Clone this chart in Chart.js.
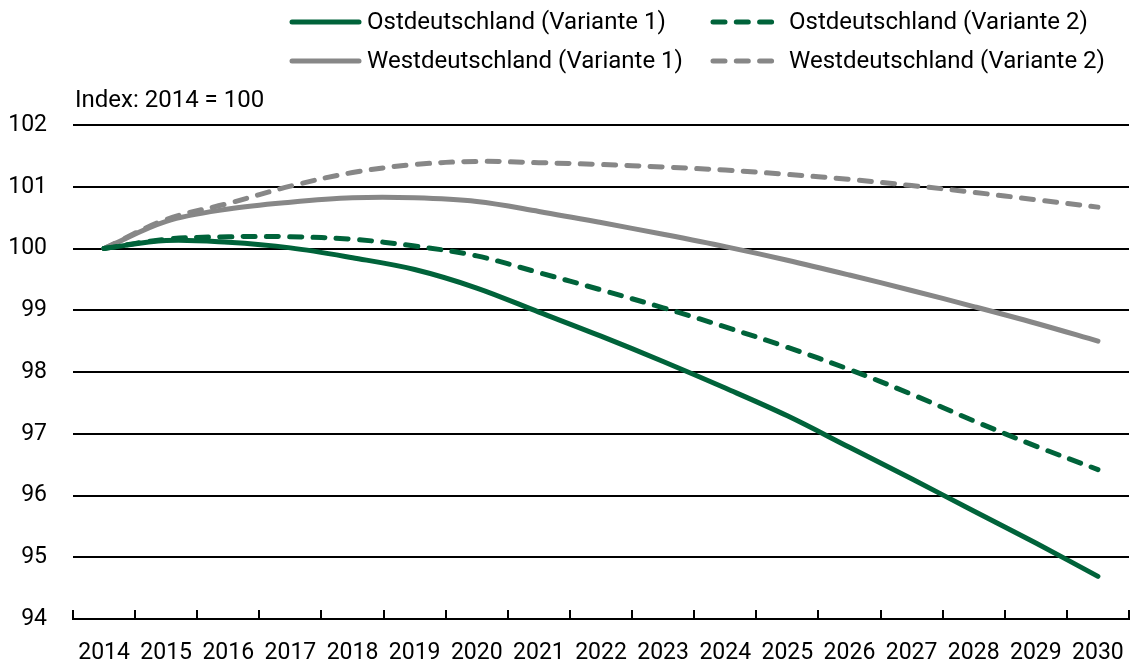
<!DOCTYPE html>
<html lang="de">
<head>
<meta charset="utf-8">
<title>Index: 2014 = 100</title>
<script src="https://cdn.jsdelivr.net/npm/chart.js@4.4.1/dist/chart.umd.min.js"></script>
<style>
  html, body { margin: 0; padding: 0; background: #fff; }
  canvas { display: block; }
</style>
</head>
<body>
<canvas id="indexChart" width="1130" height="666"></canvas>
<script>
const years = ['2014', '2015', '2016', '2017', '2018', '2019', '2020', '2021', '2022',
               '2023', '2024', '2025', '2026', '2027', '2028', '2029', '2030'];

const ostVariante1 = [100, 100.13, 100.10, 100.01, 99.85, 99.66, 99.36, 98.97, 98.58,
                      98.17, 97.74, 97.29, 96.78, 96.27, 95.75, 95.23, 94.69];
const ostVariante2 = [100, 100.15, 100.19, 100.19, 100.15, 100.04, 99.88, 99.61, 99.33,
                      99.04, 98.73, 98.40, 98.04, 97.64, 97.21, 96.80, 96.42];
const westVariante1 = [100, 100.44, 100.64, 100.75, 100.82, 100.82, 100.76, 100.60, 100.42,
                       100.23, 100.03, 99.81, 99.57, 99.32, 99.06, 98.79, 98.50];
const westVariante2 = [100, 100.47, 100.73, 101.01, 101.23, 101.36, 101.41, 101.39, 101.36,
                       101.32, 101.27, 101.20, 101.12, 101.02, 100.91, 100.79, 100.67];

const seriesNames = ['Ostdeutschland (Variante 1)', 'Ostdeutschland (Variante 2)',
                     'Westdeutschland (Variante 1)', 'Westdeutschland (Variante 2)'];
const axisCaption = 'Index: 2014 = 100';

const GREEN = '#00633a';
const GRAY = '#878787';
const FONT = 'Roboto, "Liberation Sans", sans-serif';
const DASH = [12, 11.3];

// Legende als 2x2-Raster wie im Original, dazu die Beschriftung oben links
const legendGrid = {
    id: 'legendGrid',
    afterDraw(chart) {
        const ctx = chart.ctx;
        const cols = [{ x: 292, len: 67, textX: 367 }, { x: 713, len: 62, textX: 789 }];
        const rows = [22, 61];
        ctx.save();
        ctx.font = '24px ' + FONT;
        ctx.textBaseline = 'middle';
        ctx.textAlign = 'left';
        chart.data.datasets.forEach((ds, i) => {
            const col = cols[i % 2];
            const y = rows[Math.floor(i / 2)];
            ctx.beginPath();
            ctx.strokeStyle = ds.borderColor;
            ctx.lineWidth = ds.borderWidth;
            ctx.lineCap = 'round';
            ctx.setLineDash(ds.borderDash || []);
            ctx.moveTo(col.x, y);
            ctx.lineTo(col.x + col.len, y);
            ctx.stroke();
            ctx.fillStyle = '#000';
            ctx.fillText(ds.label, col.textX, y + 1);
        });
        ctx.fillText(axisCaption, chart.chartArea.left + 2, 101);
        ctx.restore();
    }
};

new Chart(document.getElementById('indexChart'), {
    type: 'line',
    data: {
        labels: years,
        datasets: [
            { label: seriesNames[0], data: ostVariante1, borderColor: GREEN, borderWidth: 5 },
            { label: seriesNames[1], data: ostVariante2, borderColor: GREEN, borderWidth: 5, borderDash: DASH },
            { label: seriesNames[2], data: westVariante1, borderColor: GRAY, borderWidth: 5 },
            { label: seriesNames[3], data: westVariante2, borderColor: GRAY, borderWidth: 5, borderDash: DASH }
        ]
    },
    options: {
        responsive: false,
        animation: false,
        layout: { padding: { top: 125, right: 1, left: 0, bottom: 0 } },
        elements: {
            point: { radius: 0 },
            line: { tension: 0.35, borderCapStyle: 'round', borderJoinStyle: 'round', fill: false }
        },
        plugins: {
            legend: { display: false },
            tooltip: { enabled: false }
        },
        scales: {
            x: {
                offset: true,
                grid: { offset: true, drawOnChartArea: false, drawTicks: true, tickLength: -9, color: '#000', lineWidth: 2 },
                border: { display: true, color: '#000', width: 2 },
                ticks: { color: '#000', font: { family: FONT, size: 23 }, padding: 29, maxRotation: 0, autoSkip: false },
                afterFit(scale) {
                    scale.height = 47;
                    scale.paddingLeft = 0;
                    scale.paddingRight = 0;
                }
            },
            y: {
                min: 94,
                max: 102,
                ticks: { stepSize: 1, color: '#000', font: { family: FONT, size: 23 }, padding: 26 },
                grid: { color: '#000', lineWidth: 2, drawTicks: false },
                border: { display: false },
                afterFit(scale) { scale.width = 73; }
            }
        }
    },
    plugins: [legendGrid]
});
</script>
</body>
</html>
